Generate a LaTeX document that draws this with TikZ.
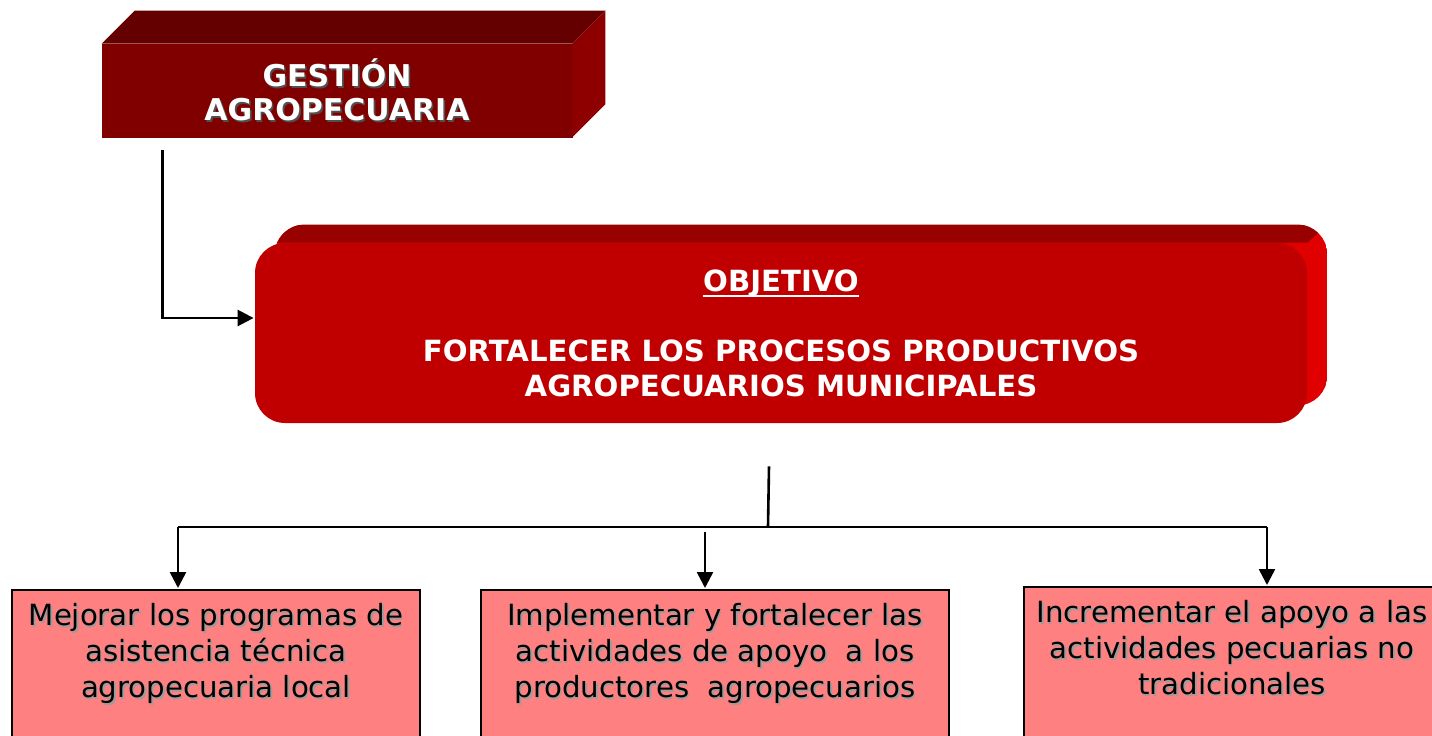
\documentclass[tikz,border=0pt]{standalone}
\usepackage{fontspec}
\setmainfont{DejaVu Sans}
\usepackage{tikz}
\usetikzlibrary{arrows.meta,backgrounds}

\definecolor{gestfrente}{HTML}{800000}
\definecolor{gesttapa}{HTML}{640000}
\definecolor{gestlado}{HTML}{8E0000}
\definecolor{objfrente}{HTML}{C00000}
\definecolor{objtapa}{HTML}{990000}
\definecolor{objlado}{HTML}{E00000}
\definecolor{metarelleno}{HTML}{FF8080}
\definecolor{sombragris}{HTML}{9C9C9C}
\definecolor{sombraoscura}{HTML}{505050}

% texto con sombra desplazada
\newcommand\sombra[2][sombragris]{\makebox[0pt][l]{\kern0.8pt\raisebox{-0.8pt}{\textcolor{#1}{#2}}}#2}
\newcommand\metatexto[2]{\parbox[t][80pt][t]{#1}{\centering #2}}
\newcommand\subrayado[1]{\setbox0\hbox{#1}\makebox[0pt][l]{\rule[-3pt]{\wd0}{1.3pt}}\box0}

\begin{document}
\begin{tikzpicture}[x=0.5pt,y=-0.5pt,
  >={Triangle[length=8pt,width=8pt]},
  conector/.style={line width=1.3pt,shorten >=0.5pt},
  gestion/.style={fill=gestfrente,draw=gestfrente,line width=0.3pt,text=white,align=center,
    minimum width=235pt,minimum height=46.5pt,font=\fontsize{15}{17}\selectfont\bfseries},
  objetivo/.style={fill=objfrente,text=white,align=center,rounded corners=15pt,minimum width=526pt,
    minimum height=90pt,font=\fontsize{14.6}{17.5}\selectfont\bfseries},
  meta/.style={draw,fill=metarelleno,line width=0.75pt,anchor=north,inner xsep=0pt,inner ysep=7pt,
    font=\fontsize{14.6}{18}\selectfont}]
  \path[use as bounding box,clip] (0,0) rectangle (1432,735);

  \node[gestion] (gest) at (337,90.5) {\sombra[sombraoscura]{GESTIÓN}\\\sombra[sombraoscura]{AGROPECUARIA}};
  \fill[gesttapa] (gest.north west) -- ([shift={(33,-33)}]gest.north west)
    -- ([shift={(33,-33)}]gest.north east) -- (gest.north east) -- cycle;
  \fill[gestlado] (gest.north east) -- ([shift={(33,-33)}]gest.north east)
    -- ([shift={(33,-33)}]gest.south east) -- (gest.south east) -- cycle;

  \node[objetivo] (obj) at (781,333) {\subrayado{OBJETIVO}\\[17.5pt]
    FORTALECER LOS PROCESOS PRODUCTIVOS\\AGROPECUARIOS MUNICIPALES};
  \begin{pgfonlayer}{background}
    \begin{scope}
      \path[clip,rounded corners=15pt] ([shift={(20,-18)}]obj.south west) rectangle ([shift={(20,-18)}]obj.north east);
      \fill[objlado] ([shift={(20,-18)}]obj.south west) rectangle ([shift={(20,-18)}]obj.north east);
      \fill[objtapa] (obj.north west) -- ([shift={(20,-18)}]obj.north west)
        -- ([shift={(20,-18)}]obj.north east) -- (obj.north east) -- cycle;
    \end{scope}
  \end{pgfonlayer}

  \node[meta] (m1) at (216,589) {\metatexto{204pt}{\sombra{Mejorar los programas de}\\
    \sombra{asistencia técnica}\\\sombra{agropecuaria local}}};
  \node[meta] (m2) at (715,589) {\metatexto{234pt}{\sombra{Implementar y fortalecer las}\\
    \sombra{actividades de apoyo~ a los}\\\sombra{productores~ agropecuarios}}};
  \node[meta] (m3) at (1232,586) {\metatexto{208pt}{\sombra{Incrementar el apoyo a las}\\
    \sombra{actividades pecuarias no}\\\sombra{tradicionales}}};

  % conectores
  \coordinate (codo) at ([shift={(61,13)}]gest.south west);
  \draw[conector,->] (codo) |- ([yshift=7.5pt]obj.west);

  \coordinate (tallo) at ([shift={(-12,43)}]obj.south);
  \coordinate (nudo) at (768,527);
  \coordinate (izq) at (178,527);
  \coordinate (der) at (1267,527);
  \coordinate (medio) at (705,532);
  \draw[conector,shorten >=0pt] (tallo) -- (nudo);
  \draw[conector,shorten >=0pt] (izq) -- (der);
  \draw[conector,->] (izq) -- (izq |- m1.north);
  \draw[conector,->] (medio) -- (medio |- m2.north);
  \draw[conector,->] (der) -- (der |- m3.north);
\end{tikzpicture}
\end{document}
